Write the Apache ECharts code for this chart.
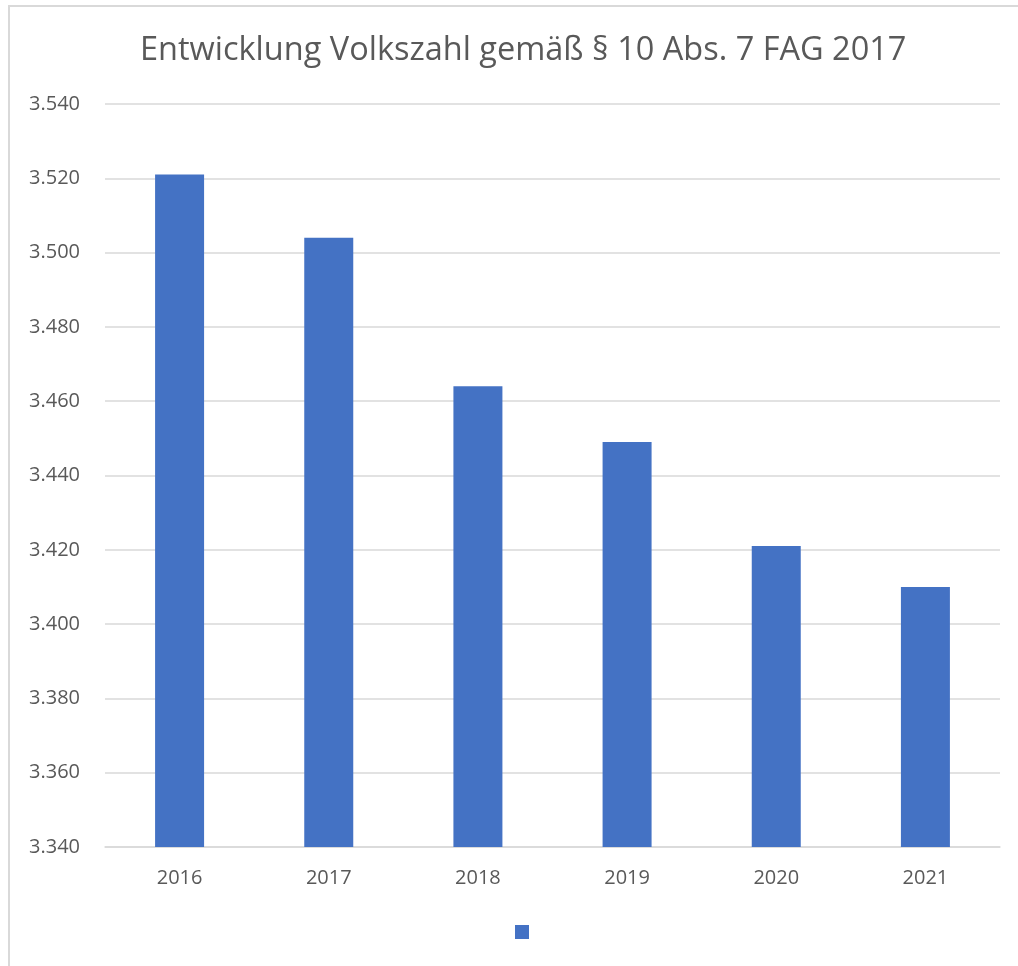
<!DOCTYPE html>
<html>
<head>
<meta charset="utf-8">
<script src="https://cdn.jsdelivr.net/npm/echarts@6/dist/echarts.min.js"></script>
<style>
  html, body { margin: 0; padding: 0; background: #fff; }
  #chart { width: 1018px; height: 966px; }
</style>
</head>
<body>
<div id="chart"></div>
<script>
var years = ['2016', '2017', '2018', '2019', '2020', '2021'];
var volkszahl = [3521, 3504, 3464, 3449, 3421, 3410];
var seriesName = 'Volkszahl';

var chart = echarts.init(document.getElementById('chart'));

function fmt(v) {
  var s = String(Math.round(v));
  return s.length > 3 ? s.slice(0, s.length - 3) + '.' + s.slice(-3) : s;
}

var option = {
  backgroundColor: '#fff',
  animation: false,
  title: {
    text: 'Entwicklung Volkszahl gemäß § 10 Abs. 7 FAG 2017',
    left: 135,
    top: 29,
    textStyle: { color: '#595959', fontSize: 32.5, fontWeight: 'normal', fontFamily: 'Open Sans' }
  },
  graphic: [{
    type: 'rect',
    shape: { x: 9, y: 6, width: 1030, height: 980 },
    style: { fill: 'none', stroke: '#d9d9d9', lineWidth: 2 },
    silent: true
  }],
  legend: {
    bottom: 22,
    left: 510,
    icon: 'rect',
    itemWidth: 14,
    itemHeight: 14,
    formatter: function () { return ''; },
    data: [seriesName]
  },
  grid: { left: 105, right: 18, top: 104, bottom: 119 },
  xAxis: {
    type: 'category',
    data: years,
    axisLine: { lineStyle: { color: '#d9d9d9', width: 1.5 } },
    axisTick: { show: false },
    axisLabel: { color: '#595959', fontSize: 20, fontFamily: 'Open Sans', margin: 21 }
  },
  yAxis: {
    type: 'value',
    min: 3340,
    max: 3540,
    interval: 20,
    axisLine: { show: false },
    axisTick: { show: false },
    splitLine: { lineStyle: { color: '#d9d9d9', width: 1.5 } },
    axisLabel: { color: '#595959', fontSize: 20, fontFamily: 'Open Sans', margin: 25, formatter: fmt }
  },
  series: [{
    name: seriesName,
    type: 'bar',
    data: volkszahl,
    barWidth: 49,
    itemStyle: { color: '#4472c4' }
  }]
};

chart.setOption(option);
</script>
</body>
</html>
